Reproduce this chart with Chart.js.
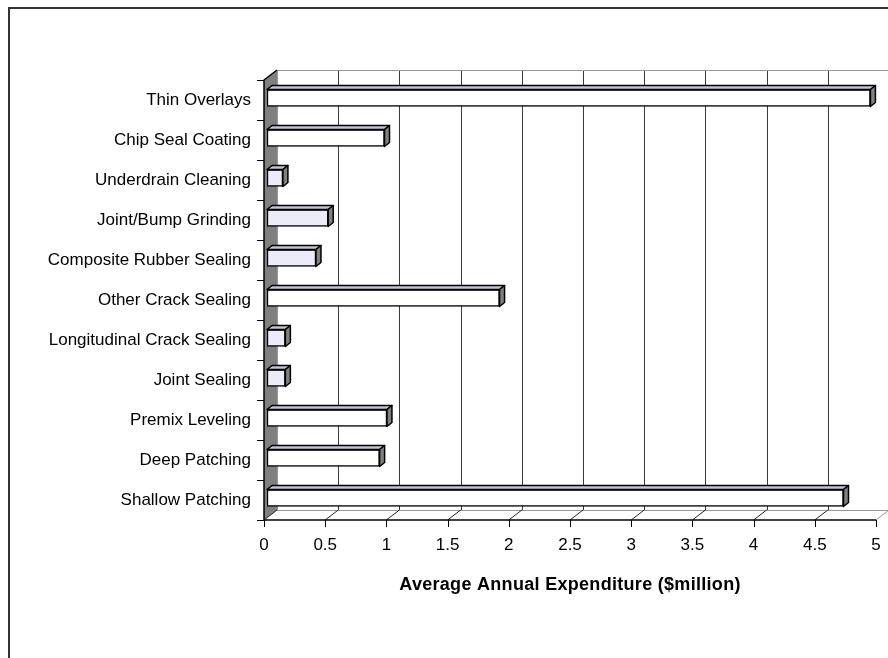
<!DOCTYPE html>
<html>
<head>
<meta charset="utf-8">
<title>Average Annual Expenditure</title>
<script src="https://cdn.jsdelivr.net/npm/chart.js@4.4.1/dist/chart.umd.min.js"></script>
<style>
  html, body { margin: 0; padding: 0; background: #ffffff; }
  #wrap { width: 888px; height: 658px; position: relative; }
</style>
</head>
<body>
<div id="wrap"><canvas id="chart" width="888" height="658"></canvas></div>
<script>
// ========================================
// Data
// ========================================
const categories = [
    'Thin Overlays', 'Chip Seal Coating', 'Underdrain Cleaning', 'Joint/Bump Grinding',
    'Composite Rubber Sealing', 'Other Crack Sealing', 'Longitudinal Crack Sealing',
    'Joint Sealing', 'Premix Leveling', 'Deep Patching', 'Shallow Patching'
];
const expenditure = [4.93, 0.96, 0.13, 0.50, 0.40, 1.90, 0.15, 0.15, 0.98, 0.92, 4.71];
const xTicks = [0, 0.5, 1, 1.5, 2, 2.5, 3, 3.5, 4, 4.5, 5];
const xTickLabels = ['0', '0.5', '1', '1.5', '2', '2.5', '3', '3.5', '4', '4.5', '5'];
const xTitle = 'Average Annual Expenditure ($million)';

// ========================================
// Styles
// ========================================
const shaded = ['Underdrain Cleaning', 'Joint/Bump Grinding', 'Composite Rubber Sealing',
                'Longitudinal Crack Sealing', 'Joint Sealing'];
const barFills = categories.map(c => shaded.includes(c) ? '#ececf8' : '#ffffff');
const FONT = '"Liberation Sans", Arial, sans-serif';
// offsets from the bar plane to the front plane and the back wall
const FRONT = { dx: -3, dy: 2 };
const BACK = { dx: 10, dy: -8 };
const BAR_DEPTH = { dx: 5, dy: -4 };

// ========================================
// 3D frame: walls, floor, grid, axes, labels
// ========================================
const framePlugin = {
    id: 'frame3d',
    beforeDraw(chart) {
        const ctx = chart.ctx;
        const xs = chart.scales.x;
        const ys = chart.scales.y;
        const a = chart.chartArea;
        const fL = xs.getPixelForValue(0) + FRONT.dx;
        const fT = a.top + FRONT.dy, fB = a.bottom + FRONT.dy;
        const bT = a.top + BACK.dy, bB = a.bottom + BACK.dy;
        const ddx = BACK.dx - FRONT.dx;
        ctx.save();

        // outer border
        ctx.strokeStyle = '#333333';
        ctx.lineWidth = 2;
        ctx.beginPath();
        ctx.moveTo(9, 658);
        ctx.lineTo(9, 8);
        ctx.lineTo(888, 8);
        ctx.stroke();

        // back wall gridlines
        ctx.lineWidth = 1;
        xTicks.forEach(v => {
            const x = Math.round(xs.getPixelForValue(v) + BACK.dx) + 0.5;
            ctx.strokeStyle = v === 0 ? '#999999' : '#3a3a3a';
            ctx.beginPath();
            ctx.moveTo(x, bT);
            ctx.lineTo(x, bB);
            ctx.stroke();
        });
        // back wall top and floor back edge
        ctx.strokeStyle = '#999999';
        ctx.beginPath();
        ctx.moveTo(fL + ddx, bT + 0.5);
        ctx.lineTo(888, bT + 0.5);
        ctx.moveTo(fL + ddx, bB + 0.5);
        ctx.lineTo(xs.getPixelForValue(5) + BACK.dx, bB + 0.5);
        ctx.stroke();

        // left wall
        ctx.fillStyle = '#808080';
        ctx.beginPath();
        ctx.moveTo(fL, fT);
        ctx.lineTo(fL + ddx, bT);
        ctx.lineTo(fL + ddx, bB);
        ctx.lineTo(fL, fB);
        ctx.closePath();
        ctx.fill();

        // floor diagonals
        xTicks.forEach(v => {
            const x = xs.getPixelForValue(v) + FRONT.dx;
            ctx.strokeStyle = v === 5 ? '#999999' : '#222222';
            ctx.beginPath();
            ctx.moveTo(x, fB);
            ctx.lineTo(x + ddx, bB);
            ctx.stroke();
        });

        // front axes
        ctx.strokeStyle = '#000000';
        ctx.lineWidth = 1.5;
        ctx.beginPath();
        ctx.moveTo(fL + ddx, bT);
        ctx.lineTo(fL, fT);
        ctx.lineTo(fL, fB);
        ctx.lineTo(xs.getPixelForValue(5) + FRONT.dx, fB);
        ctx.stroke();

        // y ticks at category boundaries
        ctx.lineWidth = 1;
        const band = (fB - fT) / categories.length;
        for (let i = 0; i <= categories.length; i++) {
            const y = Math.round(fT + band * i) + 0.5;
            ctx.beginPath();
            ctx.moveTo(fL - 7, y);
            ctx.lineTo(fL, y);
            ctx.stroke();
        }
        // x ticks
        xTicks.forEach(v => {
            const x = Math.round(xs.getPixelForValue(v) + FRONT.dx) + 0.5;
            ctx.beginPath();
            ctx.moveTo(x, fB);
            ctx.lineTo(x, fB + 7);
            ctx.stroke();
        });

        // category labels
        ctx.fillStyle = '#000000';
        ctx.font = '17px ' + FONT;
        ctx.textAlign = 'right';
        ctx.textBaseline = 'middle';
        categories.forEach((c, i) => {
            ctx.fillText(c, fL - 13, ys.getPixelForValue(i) + FRONT.dy);
        });

        // x tick labels
        ctx.textAlign = 'center';
        xTicks.forEach((v, i) => {
            ctx.fillText(xTickLabels[i], xs.getPixelForValue(v) + FRONT.dx, fB + 25);
        });

        // axis title
        ctx.font = 'bold 18px ' + FONT;
        ctx.letterSpacing = '0.3px';
        const mid = (xs.getPixelForValue(0) + xs.getPixelForValue(5)) / 2 + FRONT.dx;
        ctx.fillText(xTitle, mid, fB + 65);
        ctx.restore();
    },
    afterDatasetsDraw(chart) {
        // top and side faces of each bar
        const ctx = chart.ctx;
        const meta = chart.getDatasetMeta(0);
        const d = BAR_DEPTH;
        ctx.save();
        ctx.strokeStyle = '#000000';
        ctx.lineWidth = 1.5;
        ctx.lineJoin = 'round';
        meta.data.forEach(bar => {
            const p = bar.getProps(['x', 'y', 'base', 'height'], true);
            const top = p.y - p.height / 2;
            const bottom = p.y + p.height / 2;
            ctx.fillStyle = '#c4c4d2';
            ctx.beginPath();
            ctx.moveTo(p.base, top);
            ctx.lineTo(p.base + d.dx, top + d.dy);
            ctx.lineTo(p.x + d.dx, top + d.dy);
            ctx.lineTo(p.x, top);
            ctx.closePath();
            ctx.fill();
            ctx.stroke();
            ctx.fillStyle = '#808080';
            ctx.beginPath();
            ctx.moveTo(p.x, top);
            ctx.lineTo(p.x + d.dx, top + d.dy);
            ctx.lineTo(p.x + d.dx, bottom + d.dy);
            ctx.lineTo(p.x, bottom);
            ctx.closePath();
            ctx.fill();
            ctx.stroke();
        });
        ctx.restore();
    }
};

// ========================================
// Chart
// ========================================
new Chart(document.getElementById('chart'), {
    type: 'bar',
    data: {
        labels: categories,
        datasets: [{
            data: expenditure,
            backgroundColor: barFills,
            borderColor: '#000000',
            borderWidth: 1.5,
            borderSkipped: false,
            barThickness: 17
        }]
    },
    options: {
        indexAxis: 'y',
        responsive: false,
        animation: false,
        devicePixelRatio: 1,
        layout: { padding: { left: 267, right: 9, top: 78, bottom: 140 } },
        plugins: {
            legend: { display: false },
            tooltip: { enabled: false }
        },
        scales: {
            x: { display: false, min: 0, max: 5 },
            y: { display: false }
        }
    },
    plugins: [framePlugin]
});
</script>
</body>
</html>
